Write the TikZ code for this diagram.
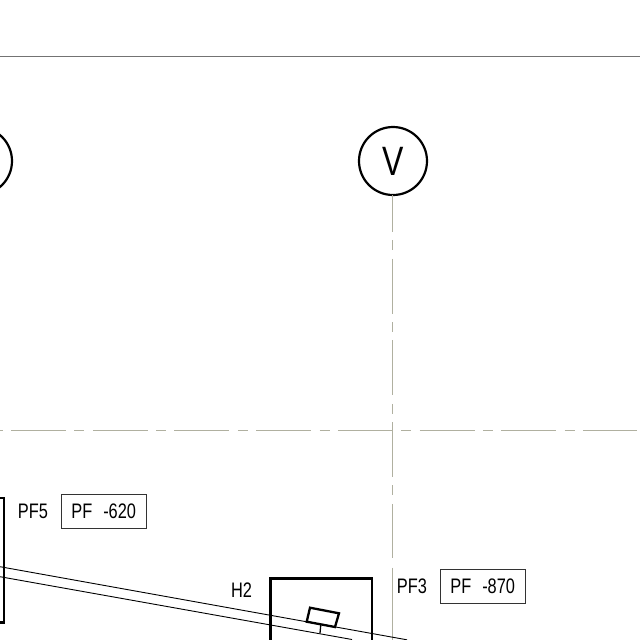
\documentclass[tikz,border=0pt]{standalone}
\usepackage{fontspec}
\setmainfont{Liberation Sans}
\newfontfamily\cadfont[FakeStretch=0.78]{Liberation Sans}
\definecolor{axisgray}{RGB}{176,176,160}
\tikzset{
  axisline/.style={draw=axisgray,line width=1pt,dash pattern=on 55pt off 8.35pt on 10pt off 8.35pt},
  solidaxis/.style={draw=axisgray,line width=1pt},
  thinline/.style={draw=black,line width=0.9pt},
  heavy/.style={draw=black,line width=2.3pt},
  tag/.style={draw=black!80,line width=0.9pt,minimum width=85pt,minimum height=34pt,inner sep=0pt,outer sep=0pt,font=\cadfont\fontsize{21}{23}\selectfont,text=black},
  lbl/.style={inner sep=0pt,font=\cadfont\fontsize{21}{23}\selectfont,text=black},
  bubble/.style={circle,draw=black,line width=2.2pt,minimum size=68pt,inner sep=0pt,outer sep=0pt,font=\cadfont\fontsize{41}{43}\selectfont}
}
\begin{document}
\begin{tikzpicture}[x=1pt,y=-1pt]
\useasboundingbox (0,0) rectangle (640,640);
\clip (0,0) rectangle (640,640);
% top rule
\coordinate (ruleL) at (0,56.5);
\coordinate (ruleR) at (640,56.5);
\draw[draw=black!55,line width=0.9pt] (ruleL) -- (ruleR);
% grid bubbles
\node[bubble] (bubbleV) at (393,161) {V};
\node[bubble] (bubbleL) at (-22,161) {};
% horizontal axis
\coordinate (hS) at (-7.3,430);
\coordinate (hE) at (637,430);
\draw[axisline,dash phase=63.35pt] (hS) -- (hE);
% vertical axis
\coordinate (vT) at (392.5,195);
\coordinate (vA) at (392.5,558);
\coordinate (vB) at (392.5,567.5);
\coordinate (vC) at (392.5,640);
\draw[axisline,dash phase=18pt] (vT) -- (vA);
\draw[solidaxis] (vB) -- (vC);
% columns
\coordinate (c1a) at (-10,498);
\coordinate (c1b) at (4,498);
\coordinate (c1c) at (4,622.5);
\coordinate (c1d) at (-10,622.5);
\draw[heavy] (c1a) -- (c1b) -- (c1c) -- (c1d);
\coordinate (h2a) at (270.5,650);
\coordinate (h2b) at (270.5,578.5);
\coordinate (h2c) at (372,578.5);
\coordinate (h2d) at (372,650);
\draw[heavy] (h2a) -- (h2b) -- (h2c) -- (h2d);
% beam
\coordinate (u1) at (0,566.7);
\coordinate (u2) at (407,639.8);
\coordinate (l1) at (0,576.7);
\coordinate (l2) at (352,639.5);
\draw[thinline] (u1) -- (u2);
\draw[thinline] (l1) -- (l2);
% bracket
\coordinate (r1) at (310,607.7);
\coordinate (r2) at (339,613.3);
\coordinate (r3) at (335,627);
\coordinate (r4) at (306.7,621.7);
\coordinate (s1) at (320.8,624.5);
\coordinate (s2) at (320,633.2);
\draw[heavy,line join=miter] (r1) -- (r2) -- (r3) -- (r4) -- cycle;
\draw[draw=black,line width=1.3pt] (s1) -- (s2);
% labels
\node[lbl] (pf5) at (33,511) {PF5};
\node[tag] (tag5) at (104.2,511.5) {\hspace{-1pt}PF\hspace{11pt}-620};
\node[lbl] (h2) at (241.5,590.5) {H2};
\node[lbl] (pf3) at (412,586) {PF3};
\node[tag] (tag3) at (483.2,586.2) {\hspace{-1pt}PF\hspace{11pt}-870};
\end{tikzpicture}
\end{document}
